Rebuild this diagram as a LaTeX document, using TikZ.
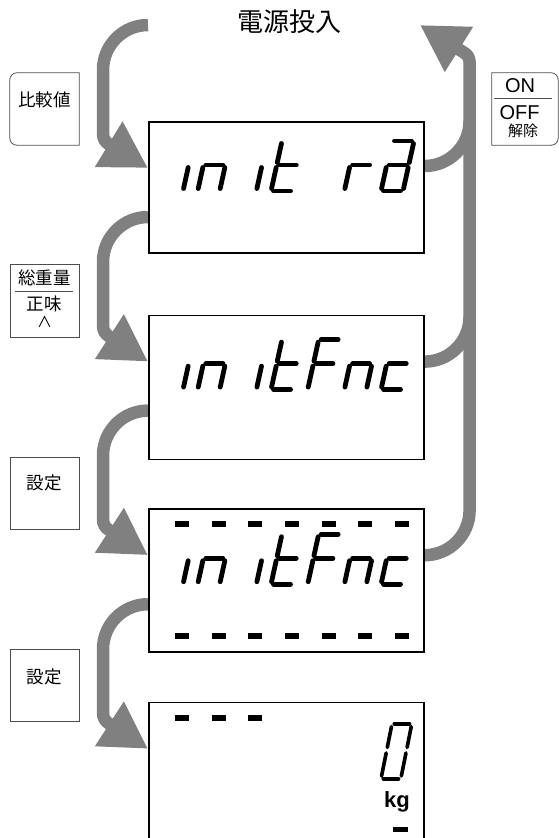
\documentclass[tikz,border=0pt]{standalone}
\usepackage{fontspec}
\setsansfont{Liberation Sans}
\newfontfamily\jp{Noto Sans CJK JP}
\usetikzlibrary{positioning,arrows.meta,backgrounds}
\definecolor{FlowGray}{HTML}{808080}
\definecolor{KeyLine}{HTML}{4D4D4D}

\tikzset{
  lcd/.style={draw=black,line width=1.6pt,minimum width=275pt,inner sep=0pt},
  keybox/.style={minimum width=69pt,minimum height=72pt,inner sep=0pt},
  keyline/.style={draw=KeyLine,line width=0.8pt},
  keytext/.style={font=\jp\fontsize{17.5}{17.5}\selectfont,inner sep=0pt},
  flow/.style={color=FlowGray,line width=12.5pt,-{Triangle[length=46pt,width=50pt]}},
  branch/.style={color=FlowGray,line width=12.5pt},
  seg/.style={line width=4.8pt,line cap=round},
}

% seven segments of one display cell
\newcommand\lcdsega{\draw[seg] (2.5,50)--(19.5,50);}
\newcommand\lcdsegb{\draw[seg] (22,47.5)--(22,28.5);}
\newcommand\lcdsegc{\draw[seg] (22,23.5)--(22,2.5);}
\newcommand\lcdsegd{\draw[seg] (2.5,0)--(19.5,0);}
\newcommand\lcdsege{\draw[seg] (0,23.5)--(0,2.5);}
\newcommand\lcdsegf{\draw[seg] (0,47.5)--(0,28.5);}
\newcommand\lcdsegg{\draw[seg] (2.5,26)--(19.5,26);}
\newcommand\lcdrow[2]{%
  \begin{scope}[shift={#1}]
    \foreach \k/\segs in {#2}{%
      \begin{scope}[xshift=\k*36.67pt,xslant=0.22]
        \foreach \s in \segs {\csname lcdseg\s\endcsname}
      \end{scope}}
  \end{scope}}

\begin{document}
\begin{tikzpicture}[x=1pt,y=1pt]
\useasboundingbox (0,0) rectangle (559,-838);
\clip (0,0) rectangle (559,-838);
\node[font=\jp\fontsize{26}{26}\selectfont] (title) at (289,-22) {電源投入};
\node[lcd,minimum height=131pt,anchor=north west] (b1) at (148,-121) {};
\node[lcd,minimum height=144pt,below=61pt of b1] (b2) {};
\node[lcd,minimum height=143pt,below=48pt of b2] (b3) {};
\node[lcd,minimum height=160pt,below=49pt of b3] (b4) {};

% keys
\node[keybox] (kcmp) at (44.5,-109) {};
\draw[keyline] (kcmp.north east) -- ([xshift=7pt]kcmp.north west) arc[start angle=90,end angle=180,radius=7pt] -- ([yshift=7pt]kcmp.south west) arc[start angle=180,end angle=270,radius=7pt] -- (kcmp.south east) -- cycle;
\node[keytext] (tcmp) at ([yshift=-27pt]kcmp.north) {比較値};
\node[keybox,keyline,minimum height=73pt] (kgross) at (44.5,-300.5) {};
\node[keytext] (tgross) at ([yshift=-14.5pt]kgross.north) {総重量};
\draw[keyline,line width=1pt] ([xshift=5pt,yshift=-28pt]kgross.north west) -- ([xshift=-6pt,yshift=-28pt]kgross.north east);
\node[keytext] (tnet) at ([yshift=-40.5pt]kgross.north) {正味};
\node[keytext,font=\jp\fontsize{15}{15}\selectfont] (tup) at ([yshift=-58pt]kgross.north) {∧};
\node[keybox,keyline] (kset) at (44.5,-493) {};
\node[keytext] (tset) at ([yshift=-26pt]kset.north) {設定};
\node[keybox,keyline] (kenter) at (44.5,-685) {};
\node[keytext] (tenter) at ([yshift=-28pt]kenter.north) {設定};
\node[keybox,minimum width=66pt] (koff) at (525,-109) {};
\draw[keyline] (koff.north west) -- ([xshift=-7pt]koff.north east) arc[start angle=90,end angle=0,radius=7pt] -- ([yshift=7pt]koff.south east) arc[start angle=0,end angle=-90,radius=7pt] -- (koff.south west) -- cycle;
\node[font=\sffamily\fontsize{20}{20}\selectfont,inner sep=0pt] (ton) at ([xshift=-5pt,yshift=-12.5pt]koff.north) {ON};
\draw[keyline,line width=1pt] ([xshift=2pt,yshift=-26pt]koff.north west) -- ([xshift=-6pt,yshift=-26pt]koff.north east);
\node[font=\sffamily\fontsize{20}{20}\selectfont,inner sep=0pt] (toff) at ([xshift=-5.5pt,yshift=-39.5pt]koff.north) {OFF};
\node[font=\jp\fontsize{15}{15}\selectfont,inner sep=0pt] (tclr) at ([xshift=-2pt,yshift=-58.5pt]koff.north) {解除};

% display contents
\lcdrow{([xshift=13pt,yshift=-70pt]b1.north west)}{0/c,1/{c,e,g},2/c,3/{d,e,f,g},5/{e,g},6/{a,b,c,d,e,g}}
\lcdrow{([xshift=13pt,yshift=-75pt]b2.north west)}{0/c,1/{c,e,g},2/c,3/{d,e,f,g},4/{a,e,f,g},5/{c,e,g},6/{d,e,g}}
\lcdrow{([xshift=13pt,yshift=-76pt]b3.north west)}{0/c,1/{c,e,g},2/c,3/{d,e,f,g},4/{a,e,f,g},5/{c,e,g},6/{d,e,g}}
\begin{scope}[shift={(b3.north west)}]
  \foreach \k in {0,...,6}{
    \fill (27+\k*36.67,-13) rectangle ++(14,-6);
    \fill (27+\k*36.67,-125) rectangle ++(14,-6);}
\end{scope}
\begin{scope}[shift={(b4.north west)}]
  \foreach \k in {0,1,2}{\fill (27+\k*36.67,-13) rectangle ++(14,-6);}
  \fill (245,-125) rectangle ++(15,-5);
\end{scope}
\begin{scope}[shift={([xshift=233pt,yshift=-77pt]b4.north west)},xslant=0.2,xscale=0.9,yscale=1.1,seg/.append style={line width=3.6pt}]
  \lcdsega\lcdsegb\lcdsegc\lcdsegd\lcdsege\lcdsegf
\end{scope}
\node[font=\sffamily\bfseries\fontsize{22}{22}\selectfont,inner sep=0pt] (unit) at ([xshift=249pt,yshift=-100pt]b4.north west) {kg};

% flow
\coordinate (pwr) at (148,-25);
\coordinate (off) at (420,-25);
\begin{scope}[on background layer]
\draw[flow] (pwr) arc[start angle=90,end angle=180,radius=45pt] -- ++(0,-64) arc[start angle=180,end angle=240,radius=12pt] -- ([yshift=-47pt]b1.north west);
\draw[flow] ([yshift=-96pt]b1.north west) arc[start angle=90,end angle=180,radius=45pt] -- ++(0,-64) arc[start angle=180,end angle=240,radius=12pt] -- ([yshift=-47pt]b2.north west);
\draw[flow] ([yshift=-96pt]b2.north west) arc[start angle=90,end angle=180,radius=45pt] -- ++(0,-64) arc[start angle=180,end angle=240,radius=12pt] -- ([yshift=-47pt]b3.north west);
\draw[flow] ([yshift=-96pt]b3.north west) arc[start angle=90,end angle=180,radius=45pt] -- ++(0,-64) arc[start angle=180,end angle=240,radius=12pt] -- ([yshift=-47pt]b4.north west);
\draw[flow] ([yshift=-47pt]b3.north east) arc[start angle=-90,end angle=0,radius=45pt] -- ++(0,448) arc[start angle=0,end angle=60,radius=11pt] -- (off);
\draw[branch] ([yshift=-45pt]b1.north east) arc[start angle=-90,end angle=0,radius=45pt];
\draw[branch] ([yshift=-47pt]b2.north east) arc[start angle=-90,end angle=0,radius=45pt];
\end{scope}
\end{tikzpicture}
\end{document}
